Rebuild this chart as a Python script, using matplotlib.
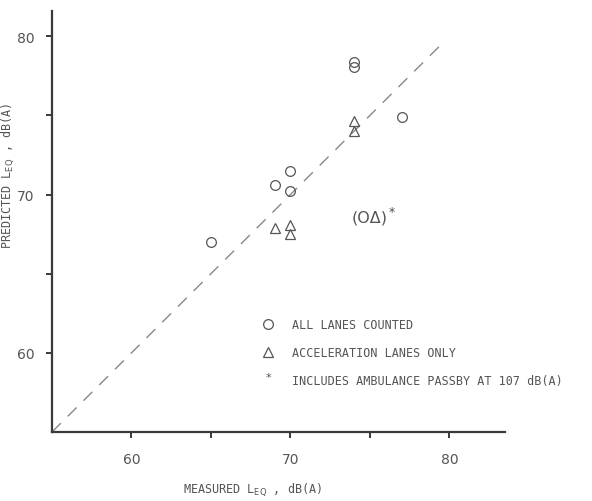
""" Predicted vs measured Leq scatter, recreated """

import matplotlib.pyplot as plt

# data
circle_x = [65, 69, 70, 70, 74, 74, 77]
circle_y = [67.0, 70.6, 71.5, 70.25, 78.4, 78.05, 74.9]
tri_x = [69, 70, 70, 74, 74]
tri_y = [67.9, 68.05, 67.5, 74.65, 74.0]
special_x = 75
special_y = 68.6
ref_line = [55, 79.5]
x_ticks = [60, 65, 70, 75, 80]
x_ticklabels = ['60', '', '70', '', '80']
y_ticks = [60, 65, 70, 75, 80]
y_ticklabels = ['60', '', '70', '', '80']

ink = '#555555'
axis_col = '#3a3a3a'
mono = 'DejaVu Sans Mono'

fig = plt.figure(figsize=(5.92, 5.02), dpi=100)
ax = fig.add_axes([52/592, 69/502, 453/592, 421/502])

ax.plot(ref_line, ref_line, color='#888888', lw=1.0,
        dashes=(9, 7), zorder=1)
ax.plot(circle_x, circle_y, 'o', ms=7, mfc='none', mec=ink, mew=0.9)
ax.plot(tri_x, tri_y, '^', ms=7.5, mfc='none', mec=ink, mew=0.9)
ax.text(special_x, special_y, '(O\u0394)', ha='center', va='center',
        fontsize=11.5, color=ink, family='DejaVu Sans')
ax.text(special_x + 1.35, special_y + 0.35, '*', ha='center', va='center',
        fontsize=9, color=ink)

ax.set_xlim(55, 83.5)
ax.set_ylim(55, 81.6)
for s in ['top', 'right']:
    ax.spines[s].set_visible(False)
for s in ['left', 'bottom']:
    ax.spines[s].set_color(axis_col)
    ax.spines[s].set_linewidth(1.6)
ax.set_xticks(x_ticks)
ax.set_xticklabels(x_ticklabels)
ax.set_yticks(y_ticks)
ax.set_yticklabels(y_ticklabels)
ax.tick_params(axis='x', length=4.5, width=1.4, color=axis_col, pad=10,
               labelsize=10, labelcolor=ink)
ax.tick_params(axis='y', length=4.5, width=1.4, color=axis_col, pad=8,
               labelsize=10, labelcolor=ink)

# legend, drawn by hand
leg_rows = [('o', 'ALL LANES COUNTED', 0.2565),
            ('^', 'ACCELERATION LANES ONLY', 0.190),
            ('*', 'INCLUDES AMBULANCE PASSBY AT 107 dB(A)', 0.1235)]
for mk, label, yy in leg_rows:
    if mk == '*':
        ax.text(0.477, yy + 0.008, '*', transform=ax.transAxes,
                ha='center', va='center', fontsize=8, color=ink)
    else:
        ax.plot([0.477], [yy], mk, ms=7, mfc='none', mec=ink, mew=0.9,
                transform=ax.transAxes, clip_on=False)
    ax.text(0.530, yy, label, transform=ax.transAxes, ha='left',
            va='center', fontsize=8.5, color=ink, family=mono)

fig.text(253/592, 1 - 490/502, r'MEASURED L$_{\mathrm{EQ}}$ , dB(A)',
         ha='center', va='center', fontsize=8.5, color=ink, family=mono)
fig.text(8/592, 1 - 176/502, r'PREDICTED L$_{\mathrm{EQ}}$ , dB(A)',
         ha='center', va='center', rotation=90, fontsize=8.5, color=ink,
         family=mono)

fig.savefig('out.png', dpi=100)
plt.close()
